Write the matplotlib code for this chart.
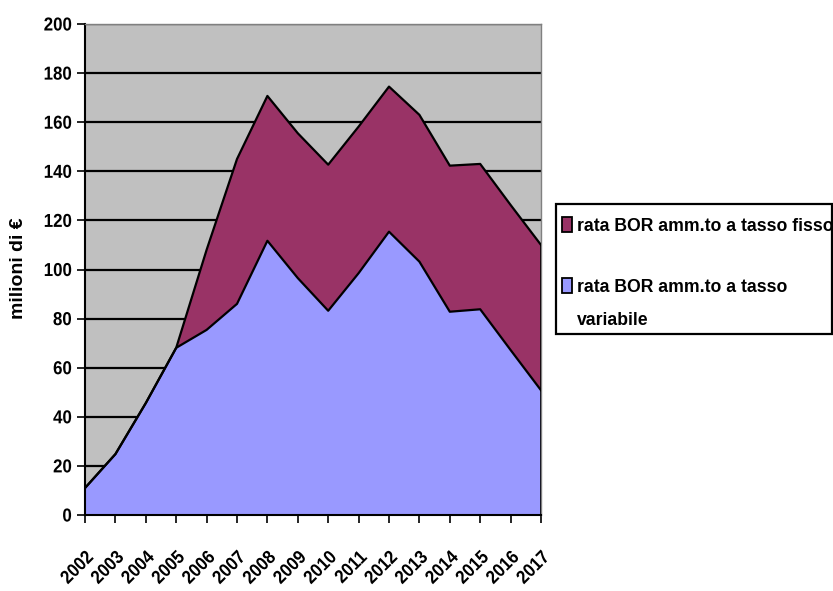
import matplotlib
matplotlib.use("Agg")
import matplotlib.pyplot as plt
from matplotlib.patches import Rectangle
from matplotlib.patheffects import AbstractPathEffect
from matplotlib.transforms import Affine2D

years = list(range(2002, 2018))
variabile = [11.0, 24.8, 45.6, 68.1, 75.4, 86.0, 111.7, 96.5, 83.2, 98.5, 115.4, 103.2, 82.8, 83.8, 67.2, 50.8]
fisso = [0.0, 0.0, 0.0, 0.0, 32.6, 59.0, 59.0, 59.0, 59.5, 59.7, 59.1, 59.8, 59.5, 59.2, 59.1, 59.2]
yticks = list(range(0, 201, 20))

label_fisso = "rata BOR amm.to a tasso fisso"
label_var = "rata BOR amm.to a tasso\nvariabile"
ylabel = "milioni di €"

col_var = "#9999FF"
col_fisso = "#993366"

plt.rcParams["font.family"] = ["Liberation Sans", "DejaVu Sans"]
plt.rcParams["font.weight"] = "bold"


class Squeeze(AbstractPathEffect):
    """Narrow the glyphs along the text direction, keeping one edge fixed."""

    def __init__(self, sx=0.9, pivot="left"):
        super().__init__()
        self.sx = sx
        self.pivot = pivot

    def draw_path(self, renderer, gc, tpath, affine, rgbFace=None):
        ext = tpath.get_extents()
        px = {"left": ext.x0, "right": ext.x1, "center": 0.5 * (ext.x0 + ext.x1)}[self.pivot]
        t = Affine2D().translate(-px, 0).scale(self.sx, 1).translate(px, 0) + affine
        renderer.draw_path(gc, tpath, t, rgbFace)


W, H = 833, 591
fig = plt.figure(figsize=(W / 100, H / 100), dpi=100)
ax = fig.add_axes([85 / W, 1 - 515 / H, 456 / W, 491 / H])
ax.set_facecolor("#C0C0C0")

top = [v + f for v, f in zip(variabile, fisso)]
ax.fill_between(years, 0, variabile, facecolor=col_var, edgecolor="none", zorder=2)
ax.fill_between(years, variabile, top, facecolor=col_fisso, edgecolor="none", zorder=2)
ax.plot(years, variabile, color="black", lw=1.6, zorder=3)
ax.plot(years, top, color="black", lw=1.6, zorder=3)
ax.plot([years[-1], years[-1]], [0, top[-1]], color="black", lw=1.2, zorder=3)

for t in yticks[1:]:
    ax.axhline(t, color="black", lw=1.6, zorder=1)

ax.set_xlim(years[0], years[-1])
ax.set_ylim(0, 200)
ax.set_yticks(yticks)
ax.set_xticks(years)
ax.set_xticklabels([str(y) for y in years], rotation=45, ha="right", va="top",
                   rotation_mode="anchor", fontsize=13.5, fontweight="bold")
ax.tick_params(axis="x", direction="out", length=5.5, width=1.2, pad=19)
ax.tick_params(axis="y", direction="out", length=5.5, width=1.2, pad=4, labelsize=13.5)
for lbl in ax.get_xticklabels():
    lbl.set_path_effects([Squeeze(0.9, "right")])
for lbl in ax.get_yticklabels():
    lbl.set_fontweight("bold")
    lbl.set_path_effects([Squeeze(0.9, "right")])

for side in ("top", "right"):
    ax.spines[side].set_color("#808080")
    ax.spines[side].set_linewidth(1.0)
for side in ("left", "bottom"):
    ax.spines[side].set_color("black")
    ax.spines[side].set_linewidth(1.5)
ax.spines["bottom"].set_zorder(4)

fig.text(19 / W, 1 - 268 / H, ylabel, rotation=90, ha="center", va="center",
         fontsize=14, fontweight="bold")

# legend box
fig.add_artist(Rectangle((556 / W, 1 - 334 / H), (W - 557) / W, 130 / H,
                         transform=fig.transFigure, facecolor="white",
                         edgecolor="black", lw=1.6))
entries = [(col_fisso, label_fisso, 231), (col_var, label_var, 292)]
for colour, text, base in entries:
    fig.add_artist(Rectangle((562 / W, 1 - (base + 0.5) / H), 9.5 / W, 14.5 / H,
                             transform=fig.transFigure, facecolor=colour,
                             edgecolor="black", lw=1.3))
    for i, line in enumerate(text.split("\n")):
        fig.text(577 / W, 1 - (base + 33 * i) / H, line, ha="left", va="baseline",
                 fontsize=12.7, fontweight="bold")

fig.savefig("out.png", dpi=100)
